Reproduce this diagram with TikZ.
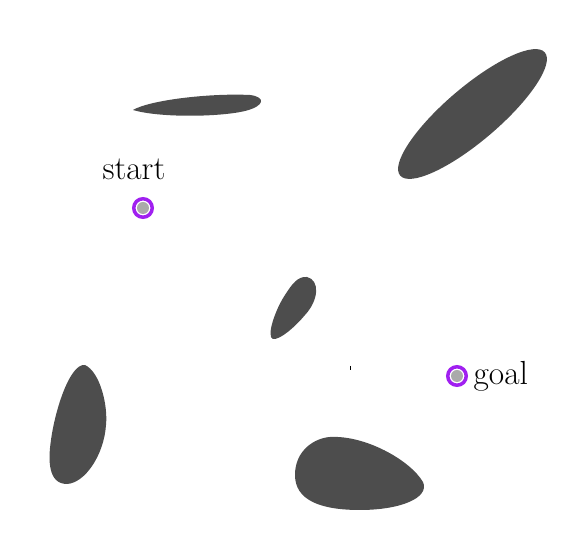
\documentclass[tikz,border=0pt]{standalone}
\usetikzlibrary{positioning}
\definecolor{ObstGray}{RGB}{77,77,77}
\definecolor{MarkPurple}{RGB}{160,32,240}
\definecolor{MarkFill}{RGB}{170,170,170}

\begin{document}
\begin{tikzpicture}[x=0.02cm,y=-0.02cm,
  obstacle/.style={fill=ObstGray},
  waypoint/.style={circle,draw=MarkPurple,line width=2pt,fill=white,
    minimum size=0.37cm,inner sep=0pt,
    path picture={\fill[MarkFill] (path picture bounding box.center) circle (0.12cm);}},
  tag/.style={font=\fontsize{19}{22}\selectfont,inner sep=1pt}]
  \useasboundingbox (0,0) rectangle (586,553);
  % obstacles
  \fill[obstacle] (133,110) .. controls (150,100) and (210,93) .. (250,95)
    .. controls (266,97) and (265,106) .. (245,111)
    .. controls (220,117) and (160,118) .. cycle;
  \fill[obstacle, rotate around={40.4:(472.5,114)}] (472.5,114)
    ellipse [x radius=1.9cm, y radius=0.54cm];
  \fill[obstacle] (307,277) .. controls (320,280) and (319,300) .. (305,315)
    .. controls (295,327) and (280,340) .. (273,339)
    .. controls (266,337) and (275,310) .. (285,295)
    .. controls (292,284) and (298,276) .. cycle;
  \fill[obstacle] (85,365) .. controls (100,372) and (108,405) .. (106,425)
    .. controls (104,455) and (85,483) .. (67,484)
    .. controls (48,484) and (48,460) .. (51,440)
    .. controls (55,410) and (70,363) .. cycle;
  \fill[obstacle] (330,437) .. controls (365,435) and (410,460) .. (423,482)
    .. controls (430,498) and (400,510) .. (360,510)
    .. controls (320,510) and (295,500) .. (295,475)
    .. controls (295,450) and (315,438) .. cycle;
  \draw[line width=0.4pt] (350,366) -- (350,370);
  % start and goal
  \node[waypoint] (start) at (143,208) {};
  \node[waypoint] (goal) at (457,376) {};
  \node[tag] (startlbl) at (134,169) {start};
  \node[tag,right=2pt of goal] (goallbl) {goal};
\end{tikzpicture}
\end{document}
